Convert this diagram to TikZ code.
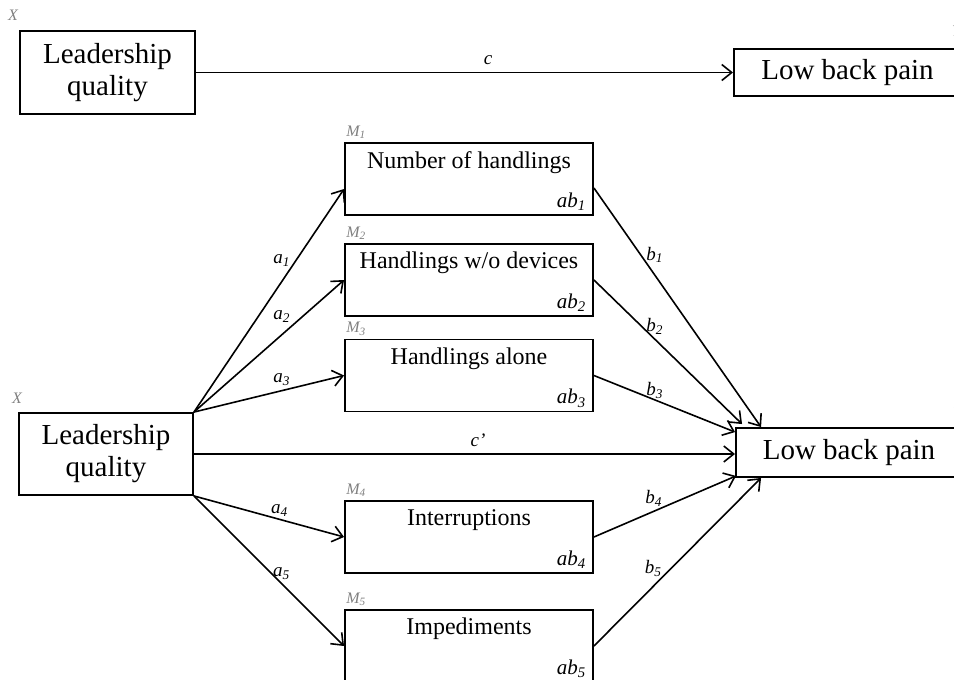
\documentclass[tikz,border=0pt]{standalone}
\usepackage{fontspec}
\setmainfont{Liberation Serif}
\usetikzlibrary{arrows.meta}
\pgfkeys{tikz/mybox/.style={draw,line width=1.9pt,inner sep=0pt}}
\pgfkeys{tikz/bigbox/.style={mybox,align=center,font=\fontsize{29}{32}\selectfont}}
\pgfkeys{tikz/mytag/.style={text=gray,font=\fontsize{16}{16}\selectfont\itshape,inner sep=0pt}}
\pgfkeys{tikz/mypath/.style={line width=1.6pt,-{Straight Barb[length=10pt,width=16pt,line width=1.6pt]}}}
\pgfkeys{tikz/mycoef/.style={font=\fontsize{19}{19}\selectfont\itshape,inner sep=0pt}}
\newcommand*\mediator[4]{\node [mybox,minimum width=248pt,minimum height=72pt,
    label={[mytag,anchor=south west,xshift=2pt,yshift=3pt]north west:M\textsubscript{#3}},
    label={[anchor=north,inner sep=0pt,yshift=-9pt,font=\fontsize{24}{24}\selectfont]north:#4},
    label={[mycoef,font=\fontsize{21}{21}\selectfont\itshape,anchor=south east,xshift=-8pt,yshift=5pt]south east:ab\textsubscript{#3}}] (#1) at (#2) {};}

\begin{document}
\begin{tikzpicture}[x=1pt,y=-1pt]
\clip (0,0) rectangle (954,680);

% total effect
\node [bigbox,minimum width=175pt,minimum height=83pt,
  label={[mytag,anchor=south west,xshift=-11pt,yshift=9pt]north west:X}] (x1) at (107.5,72.5) {Leadership\\quality};
\node [bigbox,minimum width=227pt,minimum height=47pt,
  label={[mytag,anchor=south west,xshift=-10pt,yshift=11pt]north east:Y}] (y1) at (847.5,72.5) {Low back pain};
\draw [mypath] (x1) -- node [mycoef,pos=0.544,yshift=12pt] (c) {c} (y1);

% mediation model
\node [bigbox,minimum width=174pt,minimum height=82pt,
  label={[mytag,anchor=south west,xshift=-6pt,yshift=8pt]north west:X}] (x2) at (106,454) {Leadership\\quality};
\node [bigbox,minimum width=226pt,minimum height=49pt,
  label={[mytag,anchor=south west,xshift=-10pt,yshift=8pt]north east:Y}] (y2) at (849,452.5) {Low back pain};

\mediator{m1}{469,179}{1}{Number of handlings}
\mediator{m2}{469,280}{2}{Handlings w/o devices}
\mediator{m3}{469,375.5}{3}{Handlings alone}
\mediator{m4}{469,537}{4}{Interruptions}
\mediator{m5}{469,646}{5}{Impediments}

\draw [mypath] (x2.north east) -- node [mycoef,pos=0.585,yshift=21pt] (a1) {a\textsubscript{1}} ([yshift=-10pt]m1.west);
\draw [mypath] (x2.north east) -- node [mycoef,pos=0.585,yshift=18pt] (a2) {a\textsubscript{2}} (m2.west);
\draw [mypath] (x2.north east) -- node [mycoef,pos=0.585,yshift=11pt] (a3) {a\textsubscript{3}} (m3.west);
\draw [mypath] (x2.south east) -- node [mycoef,pos=0.57,yshift=9pt] (a4) {a\textsubscript{4}} (m4.west);
\draw [mypath] (x2.south east) -- node [mycoef,pos=0.55,xshift=5pt,yshift=5pt] (a5) {a\textsubscript{5}} (m5.west);
\draw [mypath] (x2.east) -- node [mycoef,pos=0.525,yshift=14pt] (c') {c’} (x2.east -| y2.west);

\draw [mypath] ([yshift=-9pt]m1.east) -- node [mycoef,pos=0.28,xshift=14pt] (b1) {b\textsubscript{1}} ([xshift=26pt]y2.north west);
\draw [mypath] (m2.east) -- node [mycoef,pos=0.41,yshift=13pt] (b2) {b\textsubscript{2}} ([xshift=7pt,yshift=3pt]y2.north west);
\draw [mypath] (m3.east) -- node [mycoef,pos=0.43,yshift=9pt] (b3) {b\textsubscript{3}} ([yshift=-5pt]y2.north west);
\draw [mypath] (m4.east) -- node [mycoef,pos=0.42,yshift=13pt] (b4) {b\textsubscript{4}} ([xshift=1pt,yshift=2pt]y2.south west);
\draw [mypath] (m5.east) -- node [mycoef,pos=0.355,yshift=18pt] (b5) {b\textsubscript{5}} ([xshift=26pt]y2.south west);
\end{tikzpicture}
\end{document}
